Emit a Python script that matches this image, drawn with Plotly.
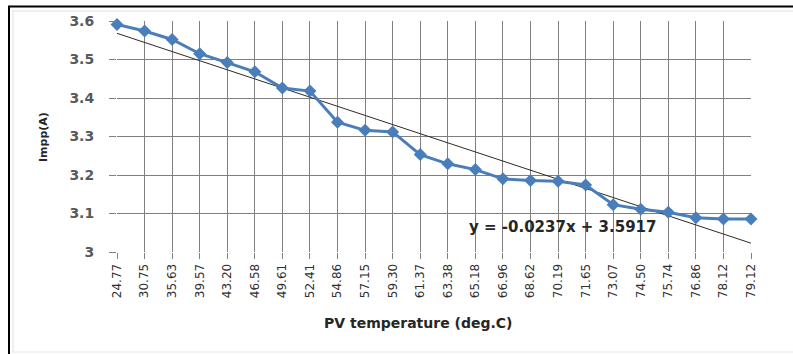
import plotly.graph_objects as go

# PV module temperature (deg.C) used as category labels
temperatures = ["24.77", "30.75", "35.63", "39.57", "43.20", "46.58", "49.61", "52.41",
                "54.86", "57.15", "59.30", "61.37", "63.38", "65.18", "66.96", "68.62",
                "70.19", "71.65", "73.07", "74.50", "75.74", "76.86", "78.12", "79.12"]

# Maximum power point current (A)
impp = [3.591, 3.574, 3.552, 3.515, 3.492, 3.468, 3.426, 3.418,
        3.337, 3.316, 3.312, 3.253, 3.229, 3.214, 3.190, 3.186,
        3.184, 3.174, 3.123, 3.111, 3.103, 3.089, 3.086, 3.086]

# Linear trendline over the category index (1..n)
slope = -0.0237
intercept = 3.5917

y_ticks = [3.0, 3.1, 3.2, 3.3, 3.4, 3.5, 3.6]
y_tick_text = ["3", "3.1", "3.2", "3.3", "3.4", "3.5", "3.6"]

W, H = 793, 354
L, R, T, B = 117, 42, 21, 102
PW, PH = W - L - R, H - T - B


def px(x):
    return (x - L) / PW


def py(y):
    return (H - B - y) / PH


idx = list(range(len(temperatures)))
trend = [intercept + slope * (i + 1) for i in idx]

fig = go.Figure()
fig.add_trace(go.Scatter(
    x=idx, y=trend, mode="lines",
    line=dict(color="#2e2a27", width=1),
    hoverinfo="skip", showlegend=False, cliponaxis=False,
))
fig.add_trace(go.Scatter(
    x=idx, y=impp, mode="lines+markers",
    line=dict(color="#4a7ebb", width=3),
    marker=dict(symbol="diamond", size=10, color="#4a7ebb"),
    showlegend=False, cliponaxis=False,
))

grid = "#7f7f7f"
font_family = "'DejaVu Sans', Verdana, sans-serif"

fig.update_xaxes(
    range=[0, len(temperatures) - 1],
    tickmode="array", tickvals=idx, ticktext=temperatures,
    tickangle=-90, tickfont=dict(family=font_family, size=12, color="#303030"),
    showgrid=True, gridcolor=grid, gridwidth=1,
    ticks="outside", ticklen=6, tickcolor=grid,
    showline=False, zeroline=False,
)
fig.update_yaxes(
    range=[3.0, 3.6],
    tickmode="array", tickvals=y_ticks, ticktext=y_tick_text,
    tickfont=dict(family=font_family, size=14, color="#595959", weight="bold"),
    showgrid=True, gridcolor=grid, gridwidth=1,
    ticks="outside", ticklen=7, tickcolor=grid,
    ticklabelstandoff=12,
    showline=False, zeroline=False,
)

annotations = [
    dict(text="<b>Impp(A)</b>", x=px(43), y=py(137), xref="paper", yref="paper",
         xanchor="center", yanchor="middle", showarrow=False, textangle=-90,
         font=dict(family=font_family, size=11, color="#262626")),
    dict(text="<b>PV temperature (deg.C)</b>", x=px(418), y=py(323), xref="paper",
         yref="paper", xanchor="center", yanchor="middle", showarrow=False,
         font=dict(family=font_family, size=14, color="#262626")),
    dict(text="<b>y = -0.0237x + 3.5917</b>", x=px(562), y=py(227), xref="paper",
         yref="paper", xanchor="center", yanchor="middle", showarrow=False,
         font=dict(family=font_family, size=15, color="#262626")),
]

shapes = [
    # outer frame
    dict(type="line", xref="paper", yref="paper", x0=px(8), x1=px(W), y0=py(6.5), y1=py(6.5),
         line=dict(color="#000000", width=2)),
    dict(type="line", xref="paper", yref="paper", x0=px(9), x1=px(9), y0=py(6), y1=py(H),
         line=dict(color="#000000", width=2)),
    # inner light frame
    dict(type="line", xref="paper", yref="paper", x0=px(12), x1=px(W), y0=py(11), y1=py(11),
         line=dict(color="#e0e0e0", width=1)),
    dict(type="line", xref="paper", yref="paper", x0=px(13), x1=px(13), y0=py(11), y1=py(352),
         line=dict(color="#e0e0e0", width=1)),
    dict(type="line", xref="paper", yref="paper", x0=px(12), x1=px(W), y0=py(352), y1=py(352),
         line=dict(color="#e6e6e6", width=1)),
]

fig.update_layout(
    width=W, height=H,
    margin=dict(l=L, r=R, t=T, b=B),
    paper_bgcolor="white", plot_bgcolor="white",
    annotations=annotations, shapes=shapes,
    showlegend=False,
)

fig.write_html("out.html")
